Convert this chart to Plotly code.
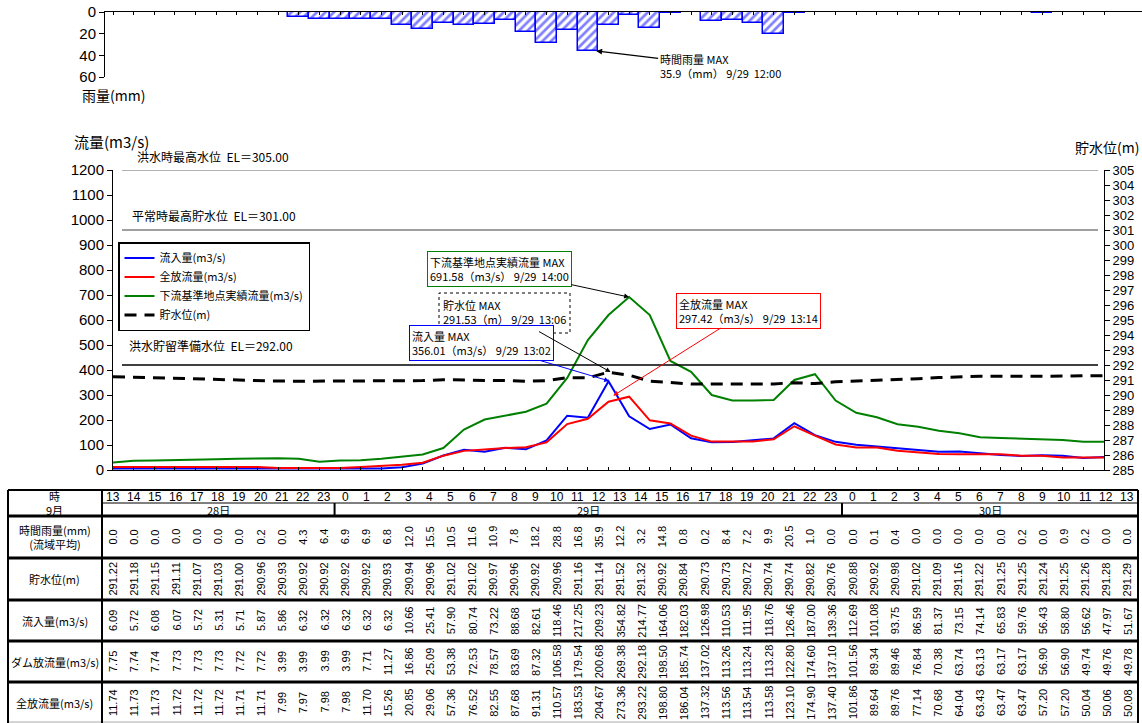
import plotly.graph_objects as go

W, H = 1142, 723
JP = "Noto Sans CJK JP"
NUM = "Liberation Sans"
NARROW = "Liberation Sans Narrow, Liberation Sans"

# 9/28 13時 ～ 9/30 13時 (毎正時)
hour_labels = [13, 14, 15, 16, 17, 18, 19, 20, 21, 22, 23,
               0, 1, 2, 3, 4, 5, 6, 7, 8, 9, 10, 11, 12, 13, 14, 15, 16, 17, 18, 19, 20, 21, 22, 23,
               0, 1, 2, 3, 4, 5, 6, 7, 8, 9, 10, 11, 12, 13]
day_labels = ["28日", "29日", "30日"]
day_counts = [11, 24, 14]

rain = [0.0, 0.0, 0.0, 0.0, 0.0, 0.0, 0.0, 0.2, 0.0, 4.3, 6.4,
        6.9, 6.9, 6.8, 12.0, 15.5, 10.5, 11.6, 10.9, 7.8, 18.2, 28.8, 16.8,
        35.9, 12.2, 3.2, 14.8, 0.8, 0.2, 8.4, 7.2, 9.9, 20.5, 1.0, 0.0,
        0.0, 0.1, 0.4, 0.0, 0.0, 0.0, 0.0, 0.0, 0.2, 0.0, 0.9, 0.2, 0.0, 0.0]

level = [291.22, 291.18, 291.15, 291.11, 291.07, 291.03, 291.00, 290.96, 290.93, 290.92, 290.92,
         290.92, 290.92, 290.93, 290.94, 290.96, 291.02, 291.02, 290.97, 290.96, 290.92, 290.96, 291.16,
         291.14, 291.52, 291.32, 290.92, 290.84, 290.73, 290.73, 290.72, 290.74, 290.74, 290.82, 290.76,
         290.88, 290.92, 290.98, 291.02, 291.09, 291.16, 291.22, 291.25, 291.25, 291.24, 291.25, 291.26,
         291.28, 291.29]

inflow = [6.09, 5.72, 6.08, 6.07, 5.72, 5.31, 5.71, 5.87, 5.86, 6.32, 6.32,
          6.32, 6.32, 6.32, 10.66, 25.41, 57.90, 80.74, 73.22, 88.68, 82.61, 118.46, 217.25,
          209.23, 354.82, 214.77, 164.06, 182.03, 126.98, 110.53, 111.95, 118.76, 126.46, 187.00, 139.36,
          112.69, 101.08, 93.75, 86.59, 81.37, 73.15, 74.14, 65.83, 59.76, 56.43, 58.80, 56.62,
          47.97, 51.67]

dam_out = [7.75, 7.74, 7.74, 7.73, 7.73, 7.73, 7.72, 7.72, 3.99, 3.99, 3.99,
           3.99, 7.71, 11.27, 16.86, 25.09, 53.38, 72.53, 78.57, 83.69, 87.32, 106.58, 179.54,
           200.68, 269.38, 292.18, 198.50, 185.74, 137.02, 113.26, 113.24, 113.28, 122.80, 174.60, 137.10,
           101.56, 89.34, 89.46, 76.84, 70.38, 63.74, 63.13, 63.17, 63.17, 56.90, 56.90, 49.74,
           49.76, 49.78]

full_out = [11.74, 11.73, 11.73, 11.72, 11.72, 11.72, 11.71, 11.71, 7.99, 7.97, 7.98,
            7.98, 11.70, 15.26, 20.85, 29.06, 57.36, 76.52, 82.55, 87.68, 91.31, 110.57, 183.53,
            204.67, 273.36, 293.22, 198.80, 186.04, 137.32, 113.56, 113.54, 113.58, 123.10, 174.90, 137.40,
            101.86, 89.64, 89.76, 77.14, 70.68, 64.04, 63.43, 63.47, 63.47, 57.20, 57.20, 50.04,
            50.06, 50.08]

# 下流基準地点実績流量
downstream = [30, 37, 38, 39, 41, 43, 45, 47, 47, 45, 33,
              38, 39, 45, 52, 62, 88, 162, 202, 218, 233, 265, 368,
              520, 620, 691.58, 620, 436, 393, 300, 278, 278, 280, 360, 383,
              278, 229, 211, 183, 173, 157, 147, 131, 128, 125, 120, 120,
              113, 113]

x_idx = list(range(len(hour_labels)))


def px(v):
    return v / W


def py(v):
    return 1 - v / H


def t_idx(day, hhmm):
    # 9/28 13:00 を 0 とした時間
    h, m = hhmm.split(":")
    return (day - 28) * 24 + int(h) - 13 + int(m) / 60


fig = go.Figure()

# 雨量
fig.add_trace(go.Bar(
    x=x_idx, y=[v if v > 0 else None for v in rain], xaxis="x2", yaxis="y3",
    width=1, showlegend=False, hoverinfo="skip",
    marker=dict(color="white", line=dict(color="#0000ff", width=1.5),
                pattern=dict(shape="/", fgcolor="#0000ff", bgcolor="white", size=6, solidity=0.45)),
))

fig.add_trace(go.Scatter(x=x_idx, y=inflow, name="流入量(m3/s)", mode="lines",
                         line=dict(color="#0000ff", width=2)))
fig.add_trace(go.Scatter(x=x_idx, y=full_out, name="全放流量(m3/s)", mode="lines",
                         line=dict(color="#ff0000", width=2)))
fig.add_trace(go.Scatter(x=x_idx, y=downstream, name="下流基準地点実績流量(m3/s)", mode="lines",
                         line=dict(color="#008000", width=2)))
fig.add_trace(go.Scatter(x=x_idx, y=level, name="貯水位(m)", mode="lines", yaxis="y2",
                         line=dict(color="black", width=3, dash="12px,8px")))

# 表用の見えない軸
fig.add_trace(go.Scatter(x=[0, 48], y=[0, 0], xaxis="x3", yaxis="y4", mode="markers",
                         marker=dict(opacity=0), showlegend=False, hoverinfo="skip"))

shapes = []
ann = []


def label(x, y, text, size=11, family=JP, xanchor="center", **kw):
    ann.append(dict(x=x, y=y, xref=kw.pop("xref", "paper"), yref="paper", text=text, showarrow=False,
                    xanchor=xanchor, yanchor="middle", font=dict(family=family, size=size), **kw))


# 基準水位線
ref_levels = [305.00, 301.00, 292.00]
ref_names = ["洪水時最高水位", "平常時最高貯水位", "洪水貯留準備水位"]
ref_colors = ["#999999", "#808080", "black"]
ref_text_y = [156, 215, 345]
ref_text_x = [135, 130, 127]
for lv, nm, c, ty, tx in zip(ref_levels, ref_names, ref_colors, ref_text_y, ref_text_x):
    shapes.append(dict(type="line", xref="paper", yref="y2", x0=px(122), x1=px(1098), y0=lv, y1=lv,
                       line=dict(color=c, width=1.5)))
    label(px(tx), py(ty), f"{nm}  EL＝{lv:.2f}", size=12, xanchor="left")

# 軸タイトル
label(px(72), py(142), "流量(m3/s)", size=15, xanchor="left")
label(px(1141), py(147), "貯水位(m)", size=14, xanchor="right")
label(px(80), py(95), "雨量(mm)", size=14, xanchor="left")

# MAX 表示
mfont = dict(family=JP, size=11, color="black")
ann.append(dict(x=t_idx(29, "12:00") + 0.4, y=35.9, xref="x2", yref="y3",
                text="時間雨量 MAX<br>35.9（mm） 9/29  12:00", align="left",
                ax=124, ay=15, showarrow=True, arrowhead=2, arrowsize=1, arrowwidth=1.2,
                arrowcolor="black", font=mfont))
ann.append(dict(x=t_idx(29, "13:02"), y=356.01, xref="x", yref="y",
                text="流入量 MAX<br>356.01（m3/s） 9/29  13:02", align="left",
                ax=-128, ay=-38, showarrow=True, arrowhead=2, arrowsize=1, arrowwidth=1,
                arrowcolor="#0000ff", bordercolor="#0000ff", borderwidth=1, borderpad=2,
                bgcolor="white", font=mfont))
ann.append(dict(x=t_idx(29, "13:06"), y=291.53, xref="x", yref="y2",
                text="貯水位 MAX<br>291.53（m） 9/29  13:06", align="left",
                ax=-106, ay=-60, showarrow=True, arrowhead=2, arrowsize=1, arrowwidth=1,
                arrowcolor="black", borderpad=4, font=mfont))
shapes.append(dict(type="rect", xref="paper", yref="paper", x0=px(439), x1=px(570), y0=py(333), y1=py(293),
                   line=dict(color="black", width=1, dash="dot"), fillcolor="white", layer="above"))
ann.append(dict(x=t_idx(29, "14:00"), y=691.58, xref="x", yref="y",
                text="下流基準地点実績流量 MAX<br>691.58（m3/s） 9/29  14:00", align="left",
                ax=-130, ay=-28, showarrow=True, arrowhead=2, arrowsize=1, arrowwidth=1,
                arrowcolor="black", bordercolor="#008000", borderwidth=1, borderpad=2,
                bgcolor="white", font=mfont))
ann.append(dict(x=t_idx(29, "13:14"), y=297.42, xref="x", yref="y",
                text="全放流量 MAX<br>297.42（m3/s） 9/29  13:14", align="left",
                ax=135, ay=-85, showarrow=True, arrowhead=2, arrowsize=1, arrowwidth=1,
                arrowcolor="#ff0000", bordercolor="#ff0000", borderwidth=1, borderpad=2,
                bgcolor="white", font=mfont))

# ---- 表 ----
tb_l, tb_h, tb_r = 8, 102, 1138
line_k = dict(color="black", width=3)
shapes.append(dict(type="line", xref="paper", yref="paper", x0=px(tb_l), x1=px(tb_r), y0=py(490), y1=py(490),
                   line=dict(color="black", width=2)))
shapes.append(dict(type="line", xref="paper", yref="paper", x0=px(tb_h), x1=px(tb_r), y0=py(503), y1=py(503),
                   line=dict(color="black", width=1)))
for yy in [516, 558, 600, 641, 682]:
    shapes.append(dict(type="line", xref="paper", yref="paper", x0=px(tb_l), x1=px(tb_r), y0=py(yy), y1=py(yy),
                       line=line_k))
shapes.append(dict(type="line", xref="paper", yref="paper", x0=px(tb_l), x1=px(tb_r), y0=py(722), y1=py(722),
                   line=dict(color="#aaaaaa", width=1)))
for xx in [tb_l, tb_h, tb_r]:
    shapes.append(dict(type="line", xref="paper", yref="paper", x0=px(xx), x1=px(xx), y0=py(490), y1=py(723),
                       line=dict(color="black", width=2)))

# 日付区切り
start = 0
for lab, n in zip(day_labels, day_counts):
    label(start + (n - 1) / 2, py(509.5), lab, xref="x3")
    if start + n < len(hour_labels):
        shapes.append(dict(type="line", xref="x3", yref="paper", x0=start + n - 0.5, x1=start + n - 0.5,
                           y0=py(503), y1=py(516), line=dict(color="black", width=2)))
    start += n

for i, h in enumerate(hour_labels):
    label(i, py(496.5), str(h), size=12, family=NUM, xref="x3")

label(px(55), py(496), "時")
label(px(55), py(510), "9月")

table_rows = [
    ("時間雨量(mm)<br>(流域平均)", rain, "{:.1f}", 537),
    ("貯水位(m)", level, "{:.2f}", 579),
    ("流入量(m3/s)", inflow, "{:.2f}", 620.5),
    ("ダム放流量(m3/s)", dam_out, "{:.2f}", 661.5),
    ("全放流量(m3/s)", full_out, "{:.2f}", 702.5),
]
for name, vals, fmt, yc in table_rows:
    label(px(55), py(yc), name)
    for i, v in enumerate(vals):
        label(i, py(yc), fmt.format(v), family=NARROW, xref="x3", textangle=-90)

axis_common = dict(automargin=False, showgrid=False, zeroline=False)

fig.update_layout(
    width=W, height=H,
    autosize=False,
    margin=dict(l=0, r=0, t=0, b=0, pad=0),
    paper_bgcolor="white", plot_bgcolor="white",
    font=dict(family=NUM, color="black"),
    showlegend=True,
    legend=dict(x=px(118), y=py(242), xanchor="left", yanchor="top", bgcolor="white",
                bordercolor="black", borderwidth=1.5, font=dict(family=JP, size=11),
                tracegroupgap=0, itemwidth=30),
    xaxis=dict(domain=[px(113), px(1104)], range=[0, 48], anchor="y",
               showline=True, linecolor="black", linewidth=1,
               tickvals=x_idx, ticks="inside", ticklen=3, tickcolor="black", showticklabels=False,
               **axis_common),
    yaxis=dict(domain=[py(470), py(170)], range=[0, 1200], dtick=100, anchor="x",
               showline=True, linecolor="black", linewidth=1,
               ticks="outside", ticklen=5, tickcolor="black", tickfont=dict(size=15), **axis_common),
    yaxis2=dict(overlaying="y", side="right", anchor="x", range=[285, 305], dtick=1,
                showline=True, linecolor="black", linewidth=1,
                ticks="outside", ticklen=5, tickcolor="black", tickfont=dict(size=13), **axis_common),
    xaxis2=dict(domain=[px(105), 1], range=[(105 - 113) / 20.646, (1142 - 113) / 20.646], anchor="y3",
                side="top", showline=True, linecolor="black", linewidth=1,
                tickvals=x_idx, ticks="inside", ticklen=3, tickcolor="black", showticklabels=False,
                **axis_common),
    yaxis3=dict(domain=[py(77), py(12)], range=[60, 0], tickvals=[0, 20, 40, 60], anchor="x2",
                showline=True, linecolor="black", linewidth=1,
                ticks="outside", ticklen=5, tickcolor="black", tickfont=dict(size=15), **axis_common),
    xaxis3=dict(domain=[px(tb_h), px(tb_r)], range=[-0.5, 48.5], anchor="y4", visible=False, **axis_common),
    yaxis4=dict(domain=[0, py(490)], range=[0, 1], anchor="x3", visible=False, **axis_common),
    shapes=shapes,
    annotations=ann,
    bargap=0,
)

fig.write_html("out.html", config={"displayModeBar": False},
               post_script="document.body.style.margin='0';")
